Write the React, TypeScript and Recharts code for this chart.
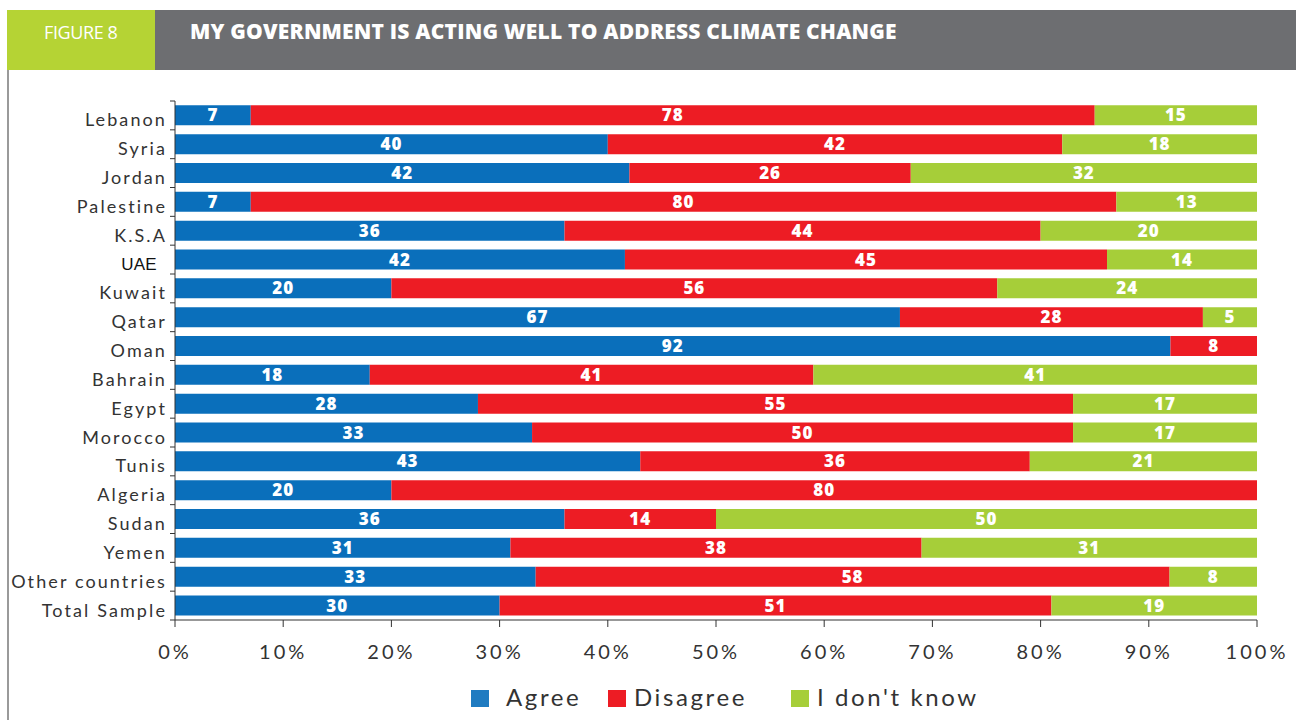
import React from "react";
import { BarChart, Bar, XAxis, YAxis, LabelList, Legend } from "recharts";

const categories = ["Lebanon","Syria","Jordan","Palestine","K.S.A","UAE","Kuwait","Qatar","Oman","Bahrain","Egypt","Morocco","Tunis","Algeria","Sudan","Yemen","Other countries","Total Sample"];
const agree = [7,40,42,7,36,42,20,67,92,18,28,33,43,20,36,31,33,30];
const disagree = [78,42,26,80,44,45,56,28,8,41,55,50,36,80,14,38,58,51];
const dontKnow = [15,18,32,13,20,14,24,5,0,41,17,17,21,0,50,31,8,19];
const xTicks = [0,0.1,0.2,0.3,0.4,0.5,0.6,0.7,0.8,0.9,1];

const data = categories.map((c, i) => ({ name: c, agree: agree[i], disagree: disagree[i], dk: dontKnow[i] }));

const BLUE = "#0a6fbb";
const RED = "#ed1c24";
const GREEN = "#a6ce39";
const AXIS_FONT = "'Lato', 'DejaVu Sans', sans-serif";

const PLOT_TOP = 101;
const PLOT_BOTTOM = 620;
const BAND = (PLOT_BOTTOM - PLOT_TOP) / categories.length;

const YTick = (props: any) => {
  const { y, payload } = props;
  const axisX = 175;
  const isLast = payload.value === categories[categories.length - 1];
  const isUAE = payload.value === "UAE";
  return (
    <g>
      <line x1={axisX - 5} x2={axisX} y1={y - BAND / 2} y2={y - BAND / 2} stroke="#333" strokeWidth={1} />
      {isLast && <line x1={axisX - 5} x2={axisX} y1={y + BAND / 2} y2={y + BAND / 2} stroke="#333" strokeWidth={1} />}
      <text x={isUAE ? 157 : 167} y={y} dy={isUAE ? 10 : 11} textAnchor="end" fill={isUAE ? "#111" : "#333"}
        style={{ fontFamily: isUAE ? "'Liberation Sans', Arial, sans-serif" : AXIS_FONT, fontSize: isUAE ? 17 : 18, letterSpacing: isUAE ? 0.3 : 2.1, fontWeight: 400 }}>
        {payload.value}
      </text>
    </g>
  );
};

const fmtLabel = (v: any) => (v && v > 0 ? v : "");

const sq = (left: number, color: string) => (
  <span style={{ position: "absolute", left, top: 8, width: 18, height: 17, background: color }} />
);
const txt = (left: number, s: string) => (
  <span style={{ position: "absolute", left, top: 0, fontFamily: AXIS_FONT, fontSize: 24, letterSpacing: 2.6, color: "#333", whiteSpace: "nowrap" }}>{s}</span>
);

const LegendContent = () => (
  <div style={{ position: "relative", width: 1257, height: 30 }}>
    {sq(471, "#1f7bc1")}
    {txt(506, "Agree")}
    {sq(608, RED)}
    {txt(634, "Disagree")}
    {sq(791, GREEN)}
    {txt(817, "I don't know")}
  </div>
);

const labelStyle = { fontFamily: "'Open Sans', sans-serif", fontWeight: 800, fontSize: 17, letterSpacing: 1 };

export default function App() {
  return (
    <div style={{ position: "absolute", left: 0, top: 0, width: 1296, height: 720, background: "#fff", overflow: "hidden" }}>
      <div style={{ position: "absolute", left: 7, top: 10, width: 1289, height: 60, background: "#6d6e71" }} />
      <div style={{ position: "absolute", left: 7, top: 10, width: 148, height: 60, background: "#b5d334" }} />
      <div style={{ position: "absolute", left: 7, top: 70, width: 2, height: 650, background: "#9a9a9a" }} />
      <div style={{ position: "absolute", left: 44, top: 20, color: "#fff", fontFamily: "'Open Sans', sans-serif", fontSize: 18, letterSpacing: -0.4 }}>FIGURE 8</div>
      <div style={{ position: "absolute", left: 190, top: 17, color: "#fff", fontFamily: "'Open Sans', sans-serif", fontSize: 21, fontWeight: 800, letterSpacing: 0.2 }}>MY GOVERNMENT IS ACTING WELL TO ADDRESS CLIMATE CHANGE</div>
      <div style={{ position: "absolute", left: 0, top: 0 }}>
        <BarChart width={1296} height={720} data={data} layout="vertical" stackOffset="expand"
          margin={{ top: PLOT_TOP, right: 39, bottom: 0, left: 0 }} barCategoryGap="15%">
          <XAxis type="number" domain={[0, 1]} ticks={xTicks} tickFormatter={(v: number) => `${Math.round(v * 100)}%`}
            height={62} tickSize={7} tickMargin={18} axisLine={{ stroke: "#333" }} tickLine={{ stroke: "#333" }}
            tick={{ fill: "#333", fontSize: 20, fontFamily: AXIS_FONT, letterSpacing: 3 }} interval={0} />
          <YAxis type="category" dataKey="name" width={175} axisLine={{ stroke: "#333" }} tickLine={false}
            tick={<YTick />} interval={0} />
          <Bar dataKey="agree" stackId="a" fill={BLUE} isAnimationActive={false}>
            <LabelList dataKey="agree" position="center" formatter={fmtLabel} fill="#fff" style={labelStyle} />
          </Bar>
          <Bar dataKey="disagree" stackId="a" fill={RED} isAnimationActive={false}>
            <LabelList dataKey="disagree" position="center" formatter={fmtLabel} fill="#fff" style={labelStyle} />
          </Bar>
          <Bar dataKey="dk" stackId="a" fill={GREEN} isAnimationActive={false}>
            <LabelList dataKey="dk" position="center" formatter={fmtLabel} fill="#fff" style={labelStyle} />
          </Bar>
          <Legend verticalAlign="bottom" align="left" height={38} content={<LegendContent />} />
        </BarChart>
      </div>
    </div>
  );
}
